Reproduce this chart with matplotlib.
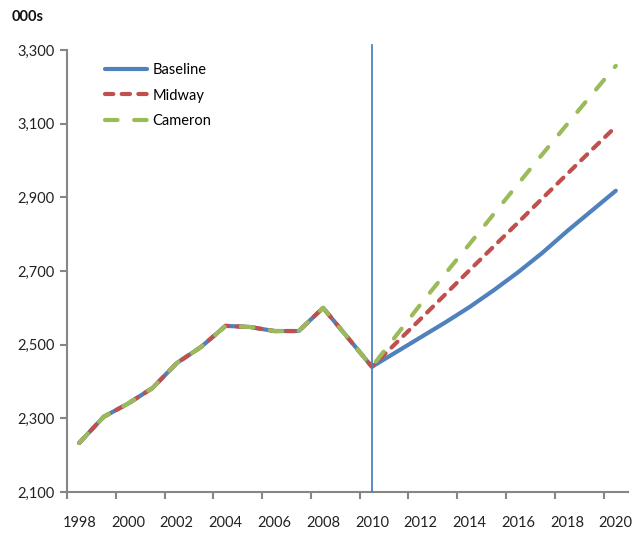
import numpy as np
import matplotlib
matplotlib.use('Agg')
import matplotlib.pyplot as plt

plt.rcParams['font.family'] = ['Lato', 'DejaVu Sans']

years = list(range(1998, 2021))
history = [2233, 2304, 2340, 2382, 2450, 2494, 2551, 2548, 2537, 2537, 2600, 2520, 2440]
baseline_proj = [2480, 2520, 2560, 2602, 2648, 2697, 2750, 2808, 2863, 2918]
midway_proj = [2505, 2570, 2636, 2702, 2767, 2832, 2898, 2963, 3028, 3092]
cameron_proj = [2525, 2610, 2692, 2773, 2855, 2937, 3018, 3098, 3178, 3257]
series_names = ['Baseline', 'Midway', 'Cameron']
y_ticks = [2100, 2300, 2500, 2700, 2900, 3100, 3300]
split_year = 2010

baseline = history + baseline_proj
midway = history + midway_proj
cameron = history + cameron_proj

blue = '#4F81BD'
red = '#C0504D'
green = '#9BBB59'
axis_grey = '#868686'

fig = plt.figure(figsize=(6.35, 5.33), dpi=100)
ax = fig.add_axes([67 / 635, 41 / 533, 561 / 635, 442 / 533])

x = np.arange(len(years))
lw = 3.0
ax.plot(x, baseline, color=blue, lw=lw, solid_capstyle='round', label=series_names[0], zorder=3)
ax.plot(x, midway, color=red, lw=lw, dashes=(2.0, 2.0), dash_capstyle='round',
        label=series_names[1], zorder=4)
ax.plot(x, cameron, color=green, lw=lw, dashes=(3.0, 4.0), dash_capstyle='round',
        label=series_names[2], zorder=5)

ax.axvline(years.index(split_year), ymin=0, ymax=1.012, color=blue, lw=1.3,
           clip_on=False, zorder=6)

ax.set_xlim(-0.5, len(years) - 0.5)
ax.set_ylim(y_ticks[0], y_ticks[-1])

# category axis: ticks between categories, labels on every second one
ax.set_xticks(np.arange(-0.5, len(years) - 1, 2))
ax.set_xticklabels([])
ax.set_xticks(x[::2], minor=True)
ax.set_xticklabels([str(y) for y in years[::2]], minor=True)
ax.tick_params(axis='x', which='minor', length=0, pad=17, labelsize=10.5, labelcolor='#222222')
ax.tick_params(axis='x', which='major', length=5, width=1.5, color=axis_grey)

ax.set_yticks(y_ticks)
ax.set_yticklabels(['{:,}'.format(v) for v in y_ticks])
ax.tick_params(axis='y', length=5, width=1.5, color=axis_grey, pad=4,
               labelsize=10.5, labelcolor='#222222')

for side in ['top', 'right']:
    ax.spines[side].set_visible(False)
for side in ['left', 'bottom']:
    ax.spines[side].set_color(axis_grey)
    ax.spines[side].set_linewidth(1.5)

fig.text(12 / 635, 1 - 17 / 533, '000s', fontsize=10.5, fontweight='bold',
         va='center', ha='left', color='#111111')

ax.legend(loc='upper left', bbox_to_anchor=(92 / 635, 1 - 50 / 533),
          bbox_transform=fig.transFigure, frameon=False, fontsize=10.5,
          handlelength=2.9, handletextpad=0.35, labelspacing=0.78)

fig.savefig('out.png', dpi=100)
